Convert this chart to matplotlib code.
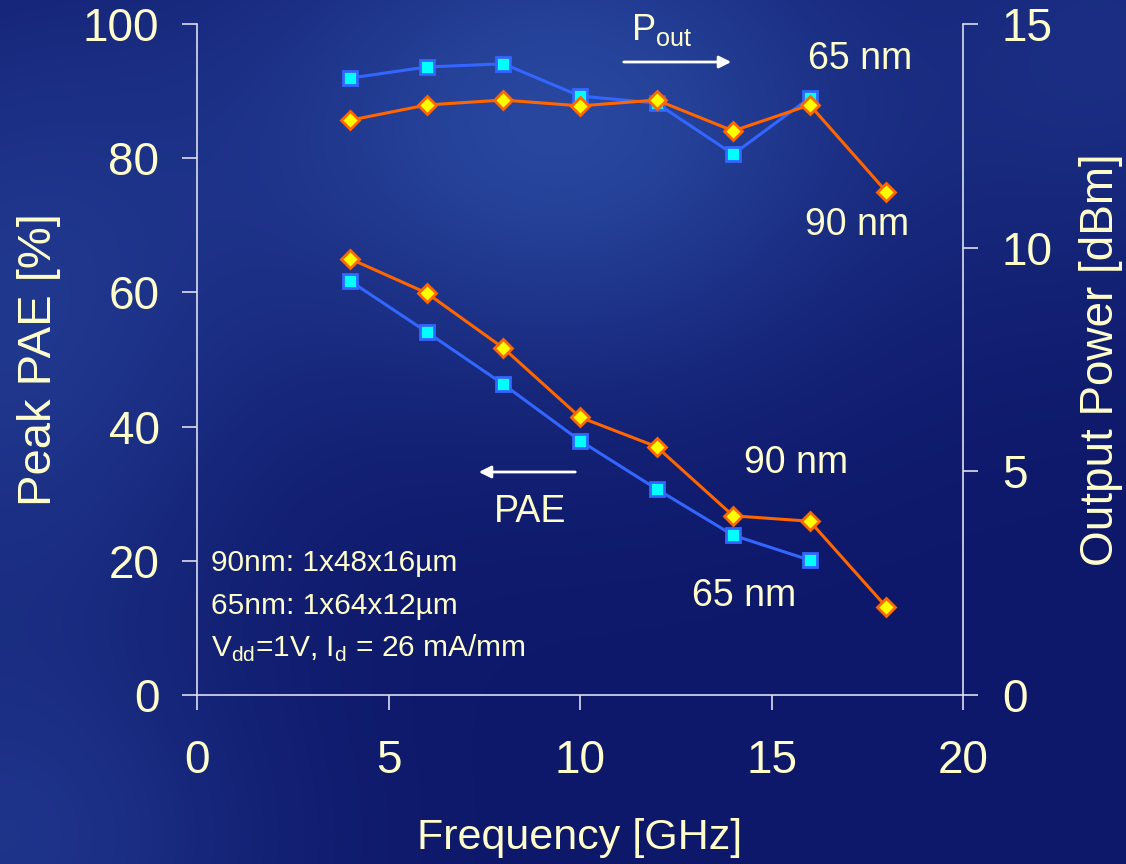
import numpy as np
import matplotlib.pyplot as plt
from matplotlib.colors import to_rgb

# frequency in GHz
freq_65 = [4, 6, 8, 10, 12, 14, 16]
freq_90 = [4, 6, 8, 10, 12, 14, 16, 18]

# peak PAE [%]
pae_65 = [61.7, 54.1, 46.3, 37.9, 30.7, 23.8, 20.1]
pae_90 = [65.0, 59.9, 51.7, 41.4, 37.0, 26.7, 25.9, 13.1]

# output power [dBm]
pout_65 = [13.79, 14.04, 14.11, 13.39, 13.23, 12.09, 13.35]
pout_90 = [12.85, 13.19, 13.30, 13.17, 13.30, 12.61, 13.19, 11.25]

txt = '#FFFFCC'
blue = '#3366FF'
orange = '#FF6600'
plt.rcParams['font.family'] = ['Liberation Sans', 'DejaVu Sans']

W, H = 1126, 864
fig = plt.figure(figsize=(W / 100, H / 100), dpi=100)

# background gradient
yy, xx = np.mgrid[0:H, 0:W]
base = np.array(to_rgb('#0e186a'))
light = np.array(to_rgb('#2d4fa8'))
w = (0.85 * np.exp(-(((xx - 560) / 330.0) ** 2 + ((yy - 120) / 260.0) ** 2))
     + 0.55 * np.exp(-(((xx - 0) / 250.0) ** 2 + ((yy - 330) / 350.0) ** 2))
     + 0.45 * np.exp(-(((xx - 0) / 260.0) ** 2 + ((yy - 860) / 200.0) ** 2))
     + 0.35 * np.exp(-(((xx - 1126) / 200.0) ** 2 + ((yy - 40) / 250.0) ** 2)))
w = np.clip(w, 0, 1)[..., None]
img = base * (1 - w) + light * w
bg = fig.add_axes([0, 0, 1, 1], zorder=-10)
bg.imshow(img, aspect='auto', extent=[0, 1, 0, 1])
bg.axis('off')

ax = fig.add_axes([197 / W, 1 - 695 / H, (963 - 197) / W, (695 - 24) / H])
ax.patch.set_alpha(0)
ax2 = ax.twinx()
ax2.patch.set_alpha(0)

ax.plot(freq_65, pae_65, color=blue, lw=2.2, marker='s', ms=10,
        mfc='#00FFFF', mec=blue, mew=2, zorder=3)
ax.plot(freq_90, pae_90, color=orange, lw=2.2, marker='D', ms=9,
        mfc='#FFFF00', mec=orange, mew=2, zorder=4)
ax2.plot(freq_65, pout_65, color=blue, lw=2.2, marker='s', ms=10,
         mfc='#00FFFF', mec=blue, mew=2, zorder=3)
ax2.plot(freq_90, pout_90, color=orange, lw=2.2, marker='D', ms=9,
         mfc='#FFFF00', mec=orange, mew=2, zorder=4)

ax.set_xlim(0, 20)
ax.set_ylim(0, 100)
ax2.set_ylim(0, 15)
ax.set_xticks([0, 5, 10, 15, 20])
ax.set_yticks([0, 20, 40, 60, 80, 100])
ax2.set_yticks([0, 5, 10, 15])

for a in (ax, ax2):
    for s in a.spines.values():
        s.set_visible(False)
ax.spines['left'].set_visible(True)
ax.spines['bottom'].set_visible(True)
ax2.spines['right'].set_visible(True)
for s in (ax.spines['left'], ax.spines['bottom'], ax2.spines['right']):
    s.set_color('#DDDDEE')
    s.set_linewidth(1.2)

ax.tick_params(axis='both', colors='#DDDDEE', width=1.2, length=11,
               direction='out', labelcolor=txt, labelsize=33)
ax.tick_params(axis='y', pad=16)
ax.tick_params(axis='x', pad=21)
ax2.tick_params(axis='y', colors='#DDDDEE', width=1.2, length=11,
                direction='out', labelcolor=txt, labelsize=33, pad=17)

ax.set_xlabel('Frequency [GHz]', color=txt, fontsize=31, labelpad=25)
ax.set_ylabel('Peak PAE [%]', color=txt, fontsize=34, labelpad=16)
ax2.set_ylabel('Output Power [dBm]', color=txt, fontsize=33, labelpad=19)


# annotation positions given in pixel coordinates of the figure
def fx(px):
    return (px - 197) / (963 - 197) * 20


def fy(py):
    return (695 - py) / (695 - 24) * 100


ax.text(fx(860), fy(59), '65 nm', color=txt, fontsize=27, ha='center', va='center')
ax.text(fx(857), fy(225), '90 nm', color=txt, fontsize=27, ha='center', va='center')
ax.text(fx(796), fy(463), '90 nm', color=txt, fontsize=27, ha='center', va='center')
ax.text(fx(744), fy(596), '65 nm', color=txt, fontsize=27, ha='center', va='center')
ax.text(fx(631), fy(30), r'P$_{\mathregular{out}}$', color=txt, fontsize=26,
        ha='left', va='center')
ax.text(fx(530), fy(512), 'PAE', color=txt, fontsize=27, ha='center', va='center')
ax.annotate('', xy=(fx(734), fy(62)), xytext=(fx(621), fy(62)),
            arrowprops=dict(arrowstyle='-|>', color='white', lw=2, mutation_scale=18))
ax.annotate('', xy=(fx(476), fy(472)), xytext=(fx(578), fy(472)),
            arrowprops=dict(arrowstyle='-|>', color='white', lw=2, mutation_scale=18))

ax.text(fx(211), fy(563), '90nm: 1x48x16µm', color=txt, fontsize=21.5, ha='left', va='center')
ax.text(fx(211), fy(606), '65nm: 1x64x12µm', color=txt, fontsize=21.5, ha='left', va='center')
ax.text(fx(211), fy(648), r'V$_{\mathregular{dd}}$=1V, I$_{\mathregular{d}}$ = 26 mA/mm',
        color=txt, fontsize=21.5, ha='left', va='center')

fig.savefig('out.png', dpi=100)
